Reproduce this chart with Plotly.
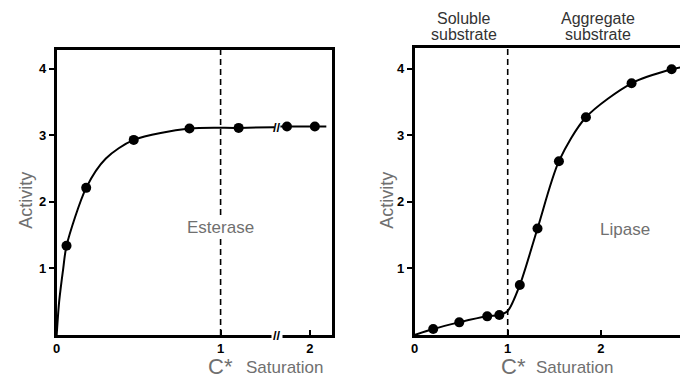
import plotly.graph_objects as go

# Esterase: activity vs substrate concentration (units of C*), x axis broken between 1.35 and 1.8
esterase_x = [0.06, 0.18, 0.47, 0.81, 1.11, 1.86, 2.03]
esterase_y = [1.34, 2.21, 2.93, 3.10, 3.11, 3.13, 3.13]
# traced curve, split at the axis break
esterase_curve_a_x = [0.0, 0.015, 0.04, 0.06, 0.18, 0.30, 0.47, 0.81, 1.11, 1.33]
esterase_curve_a_y = [0.0, 0.50, 1.00, 1.34, 2.21, 2.65, 2.93, 3.10, 3.11, 3.12]
esterase_curve_b_x = [1.82, 1.86, 2.03, 2.10]
esterase_curve_b_y = [3.13, 3.13, 3.13, 3.13]

# Lipase: activity vs substrate concentration (units of C*)
lipase_x = [0.20, 0.48, 0.78, 0.91, 1.13, 1.32, 1.55, 1.84, 2.33, 2.76]
lipase_y = [0.09, 0.19, 0.28, 0.30, 0.75, 1.60, 2.61, 3.27, 3.78, 3.99]
lipase_curve_x = [0.0, 0.20, 0.48, 0.78, 0.91, 1.0, 1.13, 1.32, 1.55, 1.84, 2.33, 2.76, 2.86]
lipase_curve_y = [0.0, 0.09, 0.19, 0.28, 0.30, 0.36, 0.75, 1.60, 2.61, 3.27, 3.78, 3.99, 4.02]

x_ticks = [0, 1, 2]
y_ticks = [1, 2, 3, 4]
C_STAR = 1.0

# broken axis: values above BREAK_HI are shifted left by GAP
BREAK_LO, BREAK_HI = 1.345, 1.80
GAP = BREAK_HI - BREAK_LO


def shift(xs):
    return [x - GAP if x > BREAK_LO else x for x in xs]


GRAY = "#707070"
INK = "black"
FONT = "Liberation Sans, Arial, sans-serif"

fig = go.Figure()

line_style = dict(color=INK, width=2, shape="spline", smoothing=0.8)
marker_style = dict(color=INK, size=10)

fig.add_trace(go.Scatter(x=shift(esterase_curve_a_x), y=esterase_curve_a_y, mode="lines",
                         line=line_style, xaxis="x", yaxis="y", hoverinfo="skip"))
fig.add_trace(go.Scatter(x=shift(esterase_curve_b_x), y=esterase_curve_b_y, mode="lines",
                         line=line_style, xaxis="x", yaxis="y", hoverinfo="skip"))
fig.add_trace(go.Scatter(x=shift(esterase_x), y=esterase_y, mode="markers",
                         marker=marker_style, xaxis="x", yaxis="y"))

fig.add_trace(go.Scatter(x=lipase_curve_x, y=lipase_curve_y, mode="lines",
                         line=line_style, xaxis="x2", yaxis="y2", hoverinfo="skip"))
fig.add_trace(go.Scatter(x=lipase_x, y=lipase_y, mode="markers",
                         marker=marker_style, xaxis="x2", yaxis="y2"))

tickfont = dict(family=FONT, size=13, color=INK, weight="bold")
axis_common = dict(showgrid=False, zeroline=False, showline=True, linecolor=INK,
                   linewidth=2.5, tickfont=tickfont, tickcolor=INK, tickwidth=1.5)

fig.update_layout(
    width=680, height=378,
    margin=dict(l=0, r=0, t=0, b=0),
    paper_bgcolor="white", plot_bgcolor="white",
    showlegend=False,
    xaxis=dict(domain=[53 / 680, 330 / 680], range=[0, 1.68], anchor="y",
               tickvals=shift(x_ticks), ticktext=[str(t) for t in x_ticks],
               ticks="inside", ticklen=5, mirror=True, **axis_common),
    yaxis=dict(domain=[43 / 378, 328 / 378], range=[0, 4.28], anchor="x",
               tickvals=y_ticks, ticks="outside", ticklen=5, mirror=True, **axis_common),
    xaxis2=dict(domain=[413 / 680, 1.0], range=[0, 2.85], anchor="y2",
                tickvals=x_ticks, ticks="inside", ticklen=5, mirror=True, **axis_common),
    yaxis2=dict(domain=[43 / 378, 330 / 378], range=[0, 4.31], anchor="x2",
                tickvals=y_ticks, ticks="outside", ticklen=5, mirror=False, **axis_common),
)

# C* saturation boundary
for xr in ("x", "x2"):
    fig.add_shape(type="line", xref=xr, yref=xr.replace("x", "y") + " domain",
                  x0=C_STAR, x1=C_STAR, y0=0, y1=1,
                  line=dict(color=INK, width=1.6, dash="6px,4px"), layer="below")

ann = []
# axis-break marks on the esterase curve and x axis
ann.append(dict(x=BREAK_LO, y=3.12, xref="x", yref="y", text="//", showarrow=False,
                font=dict(family=FONT, size=13, color=INK, weight="bold")))
ann.append(dict(x=BREAK_LO, y=0, xref="x", yref="y", text="//", showarrow=False,
                font=dict(family=FONT, size=13, color=INK, weight="bold"), bgcolor="white"))

# panel labels
ann.append(dict(x=C_STAR, y=1.62, xref="x", yref="y", text="Esterase", showarrow=False,
                font=dict(family=FONT, size=17, color=GRAY), bgcolor="white"))
ann.append(dict(x=2.26, y=1.58, xref="x2", yref="y2", text="Lipase", showarrow=False,
                font=dict(family=FONT, size=17, color=GRAY)))

# y axis titles
for xp in (22 / 680, 385 / 680):
    ann.append(dict(x=xp, y=(378 - 200) / 378, xref="paper", yref="paper", text="Activity",
                    textangle=-90, showarrow=False, xanchor="center",
                    font=dict(family=FONT, size=18, color=GRAY)))

# x axis titles
for xr, cx, sx in (("x", C_STAR, 24), ("x2", 1.06, 22)):
    ann.append(dict(x=cx, y=(378 - 366) / 378, xref=xr, yref="paper", text="C*",
                    showarrow=False, xanchor="center", yanchor="middle", borderpad=0,
                    font=dict(family=FONT, size=22, color=GRAY)))
    ann.append(dict(x=cx, y=(378 - 367) / 378, xref=xr, yref="paper", text="Saturation",
                    showarrow=False, xanchor="left", yanchor="middle", xshift=sx, borderpad=0,
                    font=dict(family=FONT, size=17, color=GRAY)))

# regime labels above the lipase panel
for cx, (l1, l2) in ((0.53, ("Soluble", "substrate")), (1.97, ("Aggregate", "substrate"))):
    ann.append(dict(x=cx, y=(378 - 18) / 378, xref="x2", yref="paper", text=l1,
                    showarrow=False, yanchor="middle", borderpad=0,
                    font=dict(family=FONT, size=16, color="#333333")))
    ann.append(dict(x=cx, y=(378 - 35) / 378, xref="x2", yref="paper", text=l2,
                    showarrow=False, yanchor="middle", borderpad=0,
                    font=dict(family=FONT, size=16, color="#333333")))

fig.update_layout(annotations=ann)

fig.write_html("out.html")
